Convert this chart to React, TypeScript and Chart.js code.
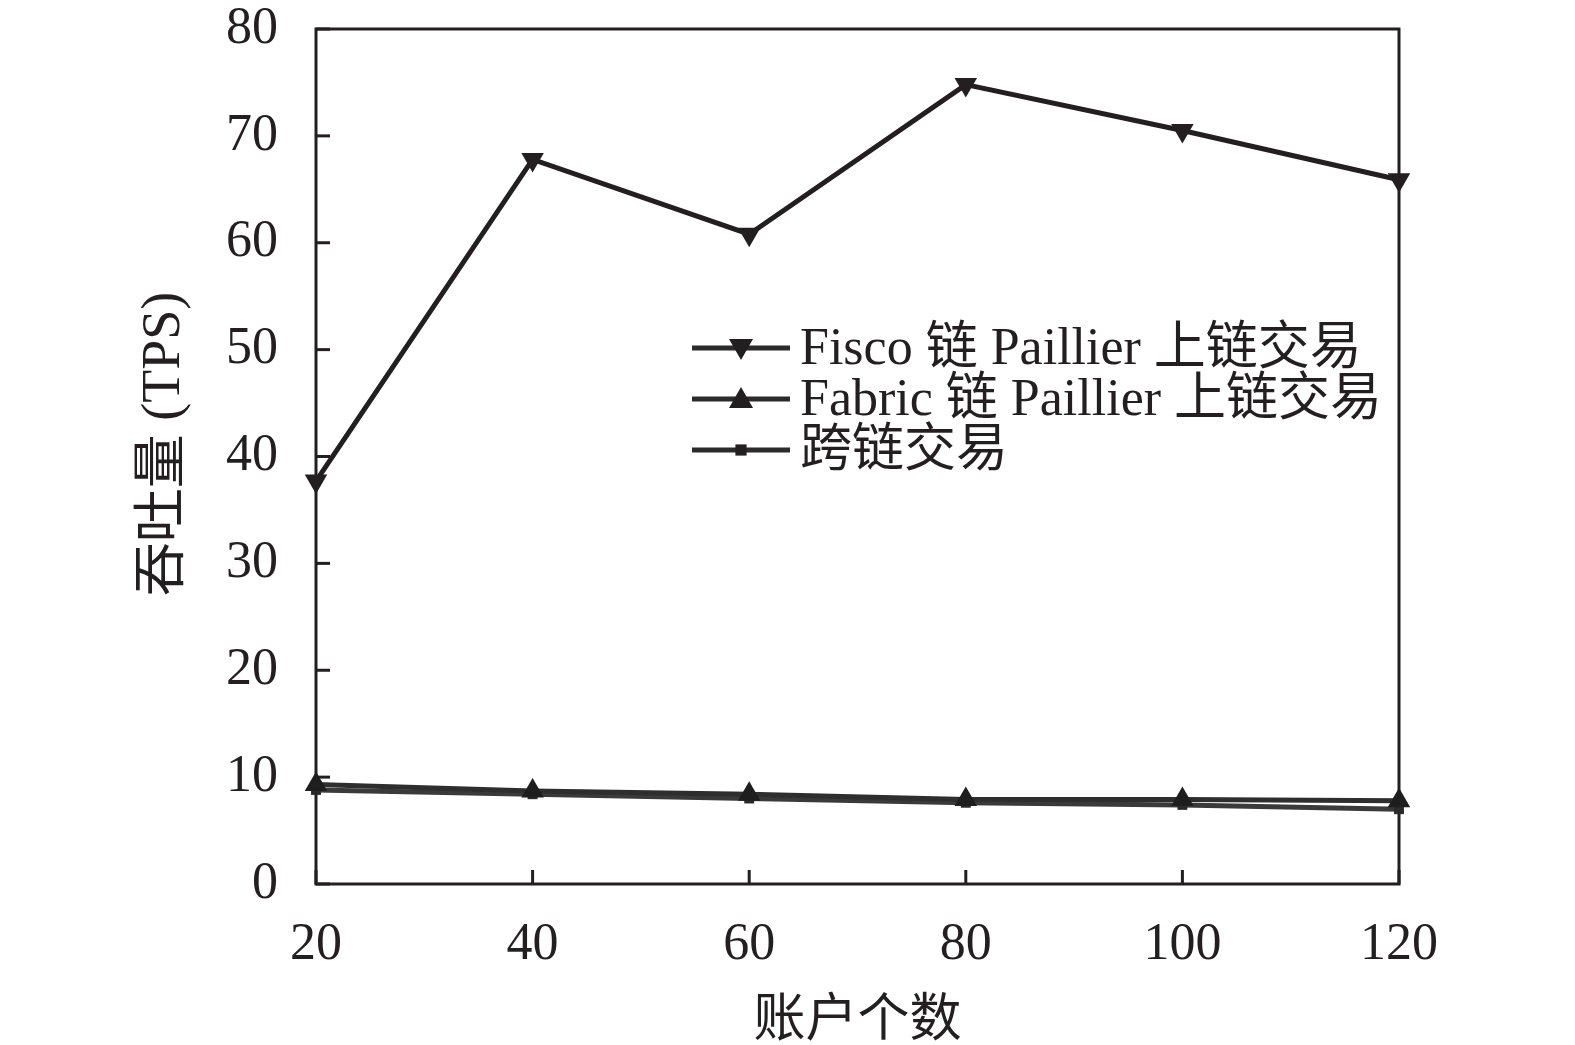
import React, { useEffect, useRef } from "react";
import { Chart, registerables } from "chart.js";

Chart.register(...registerables);

const accounts = [20, 40, 60, 80, 100, 120];
const fiscoTps = [37.7, 67.8, 60.8, 74.8, 70.5, 65.9];
const fabricTps = [9.3, 8.7, 8.4, 7.9, 7.9, 7.8];
const crossTps = [8.8, 8.4, 8.0, 7.6, 7.4, 7.0];

const seriesNames = ["Fisco 链 Paillier 上链交易", "Fabric 链 Paillier 上链交易", "跨链交易"];
const xTitle = "账户个数";
const yTitle = "吞吐量 (TPS)";

const FONT = "'Liberation Serif', 'Noto Sans CJK SC', serif";
const INK = "#231f20";

function drawMarker(ctx: CanvasRenderingContext2D, kind: string, x: number, y: number, r: number) {
  ctx.beginPath();
  if (kind === "down") {
    ctx.moveTo(x - r, y - r * 0.75);
    ctx.lineTo(x + r, y - r * 0.75);
    ctx.lineTo(x, y + r);
  } else if (kind === "up") {
    ctx.moveTo(x - r, y + r * 0.75);
    ctx.lineTo(x + r, y + r * 0.75);
    ctx.lineTo(x, y - r);
  } else {
    ctx.rect(x - r * 0.7, y - r * 0.7, r * 1.4, r * 1.4);
  }
  ctx.closePath();
  ctx.fill();
}

const framePlugin = {
  id: "framePlugin",
  beforeDatasetsDraw(chart: any) {
    const { ctx, chartArea } = chart;
    const { left, right, top, bottom } = chartArea;
    const xs = chart.scales.x;
    const ys = chart.scales.y;
    ctx.save();
    ctx.strokeStyle = INK;
    ctx.lineWidth = 3;
    ctx.strokeRect(left, top, right - left, bottom - top);
    ys.ticks.forEach((t: any) => {
      const y = ys.getPixelForValue(t.value);
      ctx.beginPath();
      ctx.moveTo(left, y);
      ctx.lineTo(left + 14, y);
      ctx.stroke();
    });
    xs.ticks.forEach((t: any) => {
      const x = xs.getPixelForValue(t.value);
      ctx.beginPath();
      ctx.moveTo(x, bottom);
      ctx.lineTo(x, bottom - 14);
      ctx.stroke();
    });
    ctx.restore();
  },
  afterDraw(chart: any) {
    const { ctx, chartArea } = chart;
    ctx.save();
    ctx.fillStyle = INK;
    ctx.font = `52px ${FONT}`;
    ctx.textAlign = "center";
    ctx.textBaseline = "middle";
    ctx.fillText(xTitle, (chartArea.left + chartArea.right) / 2, 1022);
    ctx.save();
    ctx.translate(165, 444);
    ctx.rotate(-Math.PI / 2);
    ctx.font = `54px ${FONT}`;
    ctx.fillText(yTitle, 0, 0);
    ctx.restore();
    const kinds = ["down", "up", "square"];
    const rows = [348, 399, 450];
    rows.forEach((y, i) => {
      ctx.strokeStyle = "#2b2b2b";
      ctx.fillStyle = INK;
      ctx.lineWidth = 5;
      ctx.beginPath();
      ctx.moveTo(692, y);
      ctx.lineTo(790, y);
      ctx.stroke();
      drawMarker(ctx, kinds[i], 741, y, kinds[i] === "square" ? 8 : 12);
      ctx.fillStyle = INK;
      ctx.textAlign = "left";
      ctx.textBaseline = "alphabetic";
      ctx.font = `52px ${FONT}`;
      ctx.fillText(seriesNames[i], 800, y + 16);
    });
    ctx.restore();
  },
};

export default function App() {
  const ref = useRef<HTMLCanvasElement>(null);
  useEffect(() => {
    document.body.style.margin = "0";
    const canvas = ref.current!;
    const mk = (vals: number[]) => vals.map((v, i) => ({ x: accounts[i], y: v }));
    const chart = new Chart(canvas, {
      type: "line",
      data: {
        datasets: [
          {
            label: seriesNames[0],
            data: mk(fiscoTps),
            borderColor: INK,
            backgroundColor: INK,
            borderWidth: 5,
            pointStyle: "triangle",
            rotation: 180,
            pointRadius: 13,
            pointBorderWidth: 0,
            clip: false,
          } as any,
          {
            label: seriesNames[1],
            data: mk(fabricTps),
            borderColor: "#2e2e2e",
            backgroundColor: "#1e1e1e",
            borderWidth: 5,
            pointStyle: "triangle",
            pointRadius: 13,
            pointBorderWidth: 0,
            clip: false,
          } as any,
          {
            label: seriesNames[2],
            data: mk(crossTps),
            borderColor: "#3a3a3a",
            backgroundColor: "#2a2a2a",
            borderWidth: 5,
            pointStyle: "rect",
            pointRadius: 7,
            pointBorderWidth: 0,
            clip: false,
          } as any,
        ],
      },
      options: {
        animation: false,
        responsive: false,
        devicePixelRatio: 1,
        layout: { padding: { left: 0, right: 176, top: 29, bottom: 0 } },
        plugins: { legend: { display: false }, tooltip: { enabled: false } },
        elements: { line: { tension: 0 } },
        scales: {
          x: {
            type: "linear",
            min: 20,
            max: 120,
            grid: { display: false, drawTicks: false },
            border: { display: false },
            ticks: {
              stepSize: 20,
              padding: 30,
              color: INK,
              font: { family: FONT, size: 52 },
            },
            afterFit: (s: any) => {
              s.height = 161;
              s.paddingLeft = 0;
              s.paddingRight = 0;
            },
          },
          y: {
            type: "linear",
            min: 0,
            max: 80,
            grid: { display: false, drawTicks: false },
            border: { display: false },
            ticks: {
              stepSize: 10,
              padding: 38,
              color: INK,
              font: { family: FONT, size: 52 },
            },
            afterFit: (s: any) => {
              s.width = 316;
              s.paddingTop = 0;
              s.paddingBottom = 0;
            },
          },
        },
      },
      plugins: [framePlugin],
    });
    return () => chart.destroy();
  }, []);
  return (
    <div style={{ position: "absolute", left: 0, top: 0, width: 1575, height: 1045, background: "#fff" }}>
      <canvas ref={ref} width={1575} height={1045} style={{ width: 1575, height: 1045 }} />
    </div>
  );
}
